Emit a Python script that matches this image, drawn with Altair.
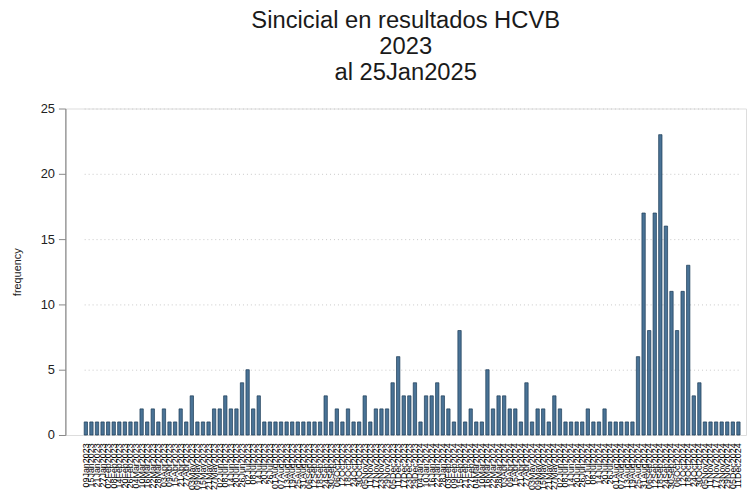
import altair as alt
import pandas as pd

# frequencies (118 categories)
freq = [
    1, 1, 1, 1, 1, 1, 1, 1, 1, 1,
    2, 1, 2, 1, 2, 1, 1, 2, 1, 3, 1, 1, 1, 2, 2, 3, 2, 2, 4, 5, 2, 3,
    1, 1, 1, 1, 1, 1, 1, 1, 1, 1, 1,
    3, 1, 2,
    1, 2, 1, 1, 3, 1, 2, 2, 2, 4, 6, 3, 3, 4,
    1, 3, 3, 4, 3, 2, 1, 8, 1, 2, 1, 1, 5, 2, 3, 3,
    2, 2, 1, 4, 1, 2, 2, 1, 3, 2, 1, 1, 1, 1, 2,
    1, 1, 2,
    1, 1, 1, 1, 1,
    6, 17, 8, 17, 23, 16, 11, 8, 11, 13, 3, 4,
    1, 1, 1, 1, 1, 1, 1,
]

# category labels (dates of results; illegible in the reference, approximated)
labels = list(pd.date_range("2023-01-09", periods=len(freq), freq="6D").strftime("%d%b%Y"))

y_ticks = [0, 5, 10, 15, 20, 25]
title_lines = ["Sincicial en resultados HCVB", "2023", "al 25Jan2025"]

df = pd.DataFrame({"fecha": labels, "frequency": freq})

chart = alt.Chart(df).mark_bar(
    color="#4a7396", stroke="#1a3a55", strokeWidth=0.7
).encode(
    x=alt.X(
        "fecha:N",
        sort=labels,
        title=None,
        scale=alt.Scale(paddingInner=0.4, paddingOuter=0, range=[19, 682], round=False),
        axis=alt.Axis(
            labelAngle=-90, labelFontSize=9, labelColor="#000000", ticks=False,
            domain=False, labelPadding=8, labelOverlap=False, labelBound=False,
            labelFont="Liberation Sans", grid=False,
        ),
    ),
    y=alt.Y(
        "frequency:Q",
        title="frequency",
        scale=alt.Scale(domain=[0, 25], nice=False),
        axis=alt.Axis(
            values=y_ticks, labelFontSize=13, labelColor="#222222",
            labelFont="Liberation Sans", tickSize=7, tickColor="#888888",
            domainColor="#888888", domainWidth=1.2, labelPadding=4,
            titleFontSize=11, titleFont="Liberation Sans", titleFontWeight="normal",
            titleColor="#222222", titlePadding=18,
            grid=True, gridColor="#c8c8c8", gridDash=[1, 3], gridWidth=1,
        ),
    ),
).properties(
    width=688,
    height=330,
    autosize=alt.AutoSizeParams(type="none"),
    padding={"left": 58, "top": 99, "right": 2, "bottom": 55},
    title=alt.Title(
        title_lines, fontSize=24, font="Liberation Sans", fontWeight="normal",
        color="#1a1a1a", anchor="middle", offset=18, lineHeight=26,
    ),
).configure_view(stroke=None).configure(background="white")

chart.save("out.html", embed_options={"renderer": "svg", "actions": False})
